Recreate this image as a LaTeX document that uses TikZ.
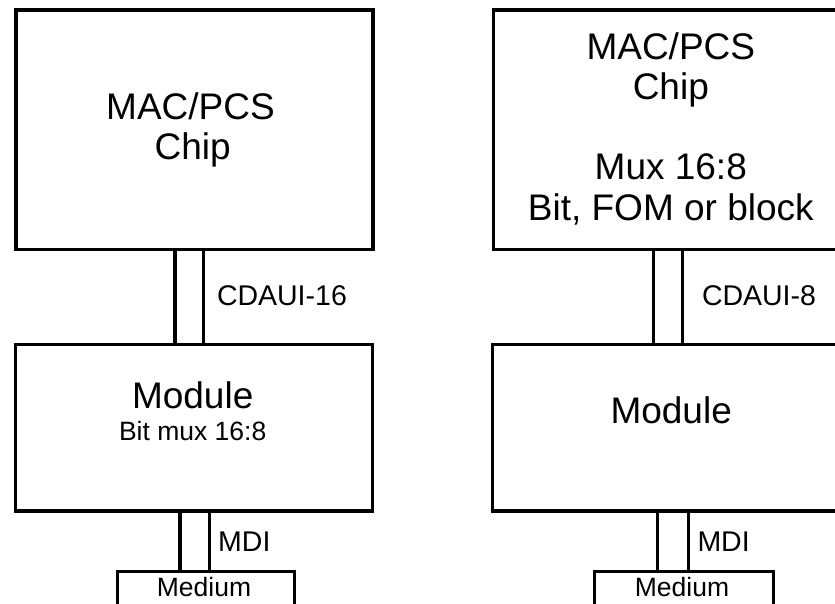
\documentclass[tikz,border=0pt]{standalone}
\usepackage{fontspec}
\setmainfont{Liberation Sans}
\begin{document}
\begin{tikzpicture}[x=1pt,y=-1pt,
  box/.style={draw, line width=3.3pt, rectangle, inner sep=0pt, anchor=north west, line join=miter},
  bus/.style={line width=3.3pt},
  big/.style={font=\fontsize{37}{40}\selectfont, anchor=base, inner sep=0pt},
  mid/.style={font=\fontsize{28.5}{32}\selectfont, anchor=base west, inner sep=0pt},
  small/.style={font=\fontsize{26.5}{30}\selectfont, anchor=base, inner sep=0pt}]
\useasboundingbox (0,0) rectangle (835,604);
\clip (0,0) rectangle (835,604);
% boxes
\node[box, minimum width=357pt, minimum height=239.2pt] (chipL) at (14.3,8.3) {};
\node[box, minimum width=357pt, minimum height=166.8pt] (modL) at (14,342.5) {};
\node[box, minimum width=177pt, minimum height=80pt] (medL) at (115.5,569.5) {};
\node[box, minimum width=358pt, minimum height=239.2pt] (chipR) at (491.7,8.3) {};
\node[box, minimum width=358pt, minimum height=166.8pt] (modR) at (491,342.5) {};
\node[box, minimum width=179pt, minimum height=80pt] (medR) at (592.7,569.5) {};
% bus positions
\coordinate (bL1) at (175,0);
\coordinate (bL2) at (203.3,0);
\coordinate (mL1) at (180,0);
\coordinate (mL2) at (209.3,0);
\coordinate (bR1) at (653.3,0);
\coordinate (bR2) at (682.3,0);
\coordinate (mR1) at (657.3,0);
\coordinate (mR2) at (688.3,0);
% connectors
\draw[bus] (chipL.south -| bL1) -- (modL.north -| bL1);
\draw[bus] (chipL.south -| bL2) -- (modL.north -| bL2);
\draw[bus] (modL.south -| mL1) -- (medL.north -| mL1);
\draw[bus] (modL.south -| mL2) -- (medL.north -| mL2);
\draw[bus] (chipR.south -| bR1) -- (modR.north -| bR1);
\draw[bus] (chipR.south -| bR2) -- (modR.north -| bR2);
\draw[bus] (modR.south -| mR1) -- (medR.north -| mR1);
\draw[bus] (modR.south -| mR2) -- (medR.north -| mR2);
% left texts
\node[big] (cL1) at (190.5,120) {MAC/PCS};
\node[big] (cL2) at (192.7,160) {Chip};
\node[mid] (lCD) at (216.8,305.7) {CDAUI-16};
\node[big] (tmodL) at (192.7,408) {Module};
\node[small] (tmuxL) at (192.7,440) {Bit mux 16:8};
\node[mid] (lMDI) at (218,551.7) {MDI};
\node[small] (tmedL) at (204,596.7) {Medium};
% right texts
\node[big] (cR1) at (670.8,60) {MAC/PCS};
\node[big] (cR2) at (670.8,100) {Chip};
\node[big] (cR3) at (670.8,180) {Mux 16:8};
\node[big] (cR4) at (670.8,220) {Bit, FOM or block};
\node[mid] (rCD) at (701.8,305.7) {CDAUI-8};
\node[big] (tmodR) at (671.2,423) {Module};
\node[mid] (rMDI) at (697.3,551.7) {MDI};
\node[small] (tmedR) at (682,596.7) {Medium};
\end{tikzpicture}
\end{document}
